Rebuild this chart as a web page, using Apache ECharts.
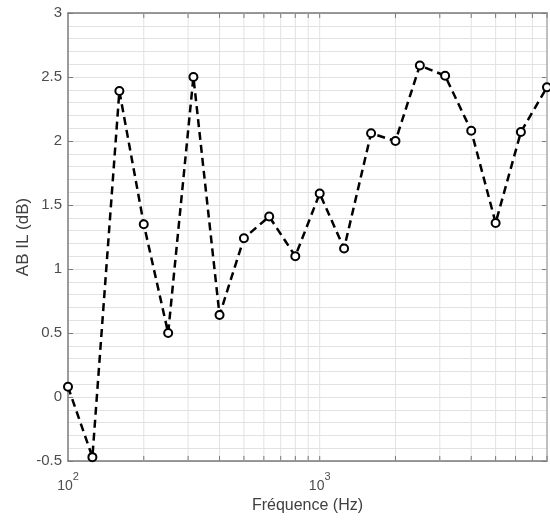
<!DOCTYPE html>
<html>
<head>
<meta charset="utf-8">
<script src="https://cdn.jsdelivr.net/npm/echarts@6/dist/echarts.min.js"></script>
<style>
  html, body { margin: 0; padding: 0; background: #ffffff; }
  #chart { width: 550px; height: 521px; }
</style>
</head>
<body>
<div id="chart"></div>
<script>
// One-third-octave band centre frequencies (Hz)
const frequencies = [100, 125, 160, 200, 250, 315, 400, 500, 630, 800,
                     1000, 1250, 1600, 2000, 2500, 3150, 4000, 5000, 6300, 8000];
// Insertion loss per band (dB)
const insertionLoss = [0.08, -0.47, 2.39, 1.35, 0.50, 2.50, 0.64, 1.24, 1.41, 1.10,
                       1.59, 1.16, 2.06, 2.00, 2.59, 2.51, 2.08, 1.36, 2.07, 2.42];
// Log-scale grid positions (minor decades + the 10^3 major line)
const gridFrequencies = [200, 300, 400, 500, 600, 700, 800, 900, 1000,
                         2000, 3000, 4000, 5000, 6000, 7000, 8000];

const xMin = 100, xMax = 8000;
const yMin = -0.5, yMax = 3, yStep = 0.5;

const font = "'Liberation Sans', Arial, sans-serif";
const gridColor = '#e2e2e2';
const axisColor = '#7a7a7a';

const chart = echarts.init(document.getElementById('chart'));

chart.setOption({
  animation: false,
  backgroundColor: '#ffffff',
  grid: { left: 68, top: 13, right: 3, bottom: 60, containLabel: false },
  xAxis: [{
    type: 'log',
    logBase: 10,
    min: xMin,
    max: xMax,
    interval: 1,
    name: 'Fréquence (Hz)',
    nameLocation: 'middle',
    nameGap: 37,
    nameTextStyle: { fontFamily: font, fontSize: 16, color: '#404040' },
    axisLine: { show: true, onZero: false, lineStyle: { color: axisColor, width: 1.5 } },
    axisTick: { show: false },
    splitLine: { show: false },
    axisLabel: {
      margin: 10,
      color: '#4d4d4d',
      formatter: function (v) {
        const e = Math.log10(v);
        const r = Math.round(e);
        if (Math.abs(e - r) > 1e-6) return '';
        return '{b|10}{s|' + r + '}';
      },
      rich: {
        b: { fontFamily: font, fontSize: 14, color: '#4d4d4d', lineHeight: 22, verticalAlign: 'bottom' },
        s: { fontFamily: font, fontSize: 11, color: '#4d4d4d', lineHeight: 11, verticalAlign: 'top' }
      }
    }
  }, {
    type: 'log',
    logBase: 10,
    min: xMin,
    max: xMax,
    position: 'top',
    axisLine: { show: true, onZero: false, lineStyle: { color: axisColor, width: 1.5 } },
    axisTick: { show: false },
    axisLabel: { show: false },
    splitLine: { show: false }
  }],
  yAxis: [{
    type: 'value',
    min: yMin,
    max: yMax,
    interval: yStep,
    name: 'AB IL (dB)',
    nameLocation: 'middle',
    nameGap: 36,
    nameMoveOverlap: false,
    nameTextStyle: { fontFamily: font, fontSize: 17, color: '#404040' },
    axisLine: { show: true, onZero: false, lineStyle: { color: axisColor, width: 1.5 } },
    axisTick: { show: true, inside: true, length: 5, lineStyle: { color: axisColor } },
    axisLabel: { fontFamily: font, fontSize: 15, color: '#4d4d4d', margin: 6 },
    splitLine: { show: true, lineStyle: { color: gridColor, width: 1 } },
    minorTick: { show: false, splitNumber: 5 },
    minorSplitLine: { show: true, lineStyle: { color: gridColor, width: 1 } }
  }, {
    type: 'value',
    min: yMin,
    max: yMax,
    interval: yStep,
    position: 'right',
    axisLine: { show: true, onZero: false, lineStyle: { color: axisColor, width: 1.5 } },
    axisTick: { show: true, inside: true, length: 5, lineStyle: { color: axisColor } },
    axisLabel: { show: false },
    splitLine: { show: false }
  }],
  series: [{
    // vertical log grid lines with inward ticks on the top and bottom edges
    type: 'custom',
    xAxisIndex: 0,
    yAxisIndex: 0,
    silent: true,
    clip: false,
    z: 1,
    data: gridFrequencies.map(function (f) { return [f, yMin]; }),
    renderItem: function (params, api) {
      const f = api.value(0);
      const top = api.coord([f, yMax]);
      const bot = api.coord([f, yMin]);
      return {
        type: 'group',
        children: [
          { type: 'line', shape: { x1: top[0], y1: top[1], x2: bot[0], y2: bot[1] },
            style: { stroke: gridColor, lineWidth: 1 } },
          { type: 'line', shape: { x1: bot[0], y1: bot[1], x2: bot[0], y2: bot[1] - 5 },
            style: { stroke: axisColor, lineWidth: 1 } },
          { type: 'line', shape: { x1: top[0], y1: top[1], x2: top[0], y2: top[1] + 5 },
            style: { stroke: axisColor, lineWidth: 1 } }
        ]
      };
    }
  }, {
    type: 'line',
    xAxisIndex: 0,
    yAxisIndex: 0,
    z: 3,
    clip: false,
    data: frequencies.map(function (f, i) { return [f, insertionLoss[i]]; }),
    symbol: 'emptyCircle',
    symbolSize: 8,
    showAllSymbol: true,
    itemStyle: { color: '#000000', borderColor: '#000000', borderWidth: 3 },
    lineStyle: { color: '#000000', width: 2.5, type: [8, 5] }
  }]
});
</script>
</body>
</html>
